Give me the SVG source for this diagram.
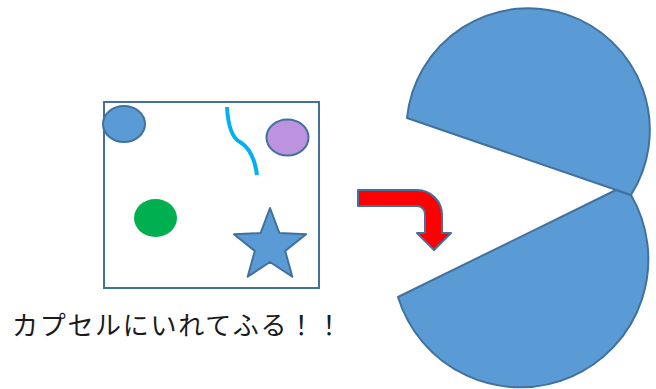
<svg xmlns="http://www.w3.org/2000/svg" width="656" height="389" viewBox="0 0 656 389">
<style>
.blue{fill:#5B9BD5;stroke:#41719C;stroke-width:2;stroke-linejoin:round}
.txt{font-family:"Noto Sans CJK JP","Noto Sans",sans-serif;font-size:26px;fill:#1a1a1a}
</style>
<rect width="656" height="389" fill="#ffffff"/>
<g id="capsule">
<rect x="104" y="102" width="215" height="186" fill="#ffffff" stroke="#41719C" stroke-width="2"/>
<ellipse id="ball-blue" cx="124" cy="124" rx="21" ry="18" class="blue"/>
<ellipse id="ball-purple" cx="287.5" cy="137.5" rx="21" ry="18" fill="#BD92DE" stroke="#41719C" stroke-width="2"/>
<ellipse id="ball-green" cx="155.5" cy="218" rx="21.5" ry="19" fill="#00B050"/>
<path id="string" d="M227,107 C228,125 232,138 240,142 C250,148 255,160 257,175" fill="none" stroke="#00B0F0" stroke-width="4"/>
<polygon id="star" class="blue" points="270,208 279.4,233.1 306.1,234.3 285.2,250.9 292.3,276.7 270,262 247.7,276.7 254.8,250.9 233.9,234.3 260.6,233.1"/>
</g>
<g id="connectors">
<path id="arrow" d="M358,190 H417 A25,25 0 0 1 442,215 V233 H451 L434,250 L417,233 H425 V214 A8,8 0 0 0 417,206 H358 Z" fill="#FF0000" stroke="#41719C" stroke-width="2" stroke-linejoin="round"/>
</g>
<g id="pacman">
<path id="jaw-lower" class="blue" d="M631,195 A128,128 0 1 1 398,297 L616,190 Z"/>
<path id="jaw-upper" class="blue" d="M407,118 A121.7,121.7 0 1 1 631,195 Z"/>
</g>
<g id="label">
<text class="txt" x="12" y="335" textLength="330" lengthAdjust="spacing">カプセルにいれてふる！！</text>
</g>
</svg>
